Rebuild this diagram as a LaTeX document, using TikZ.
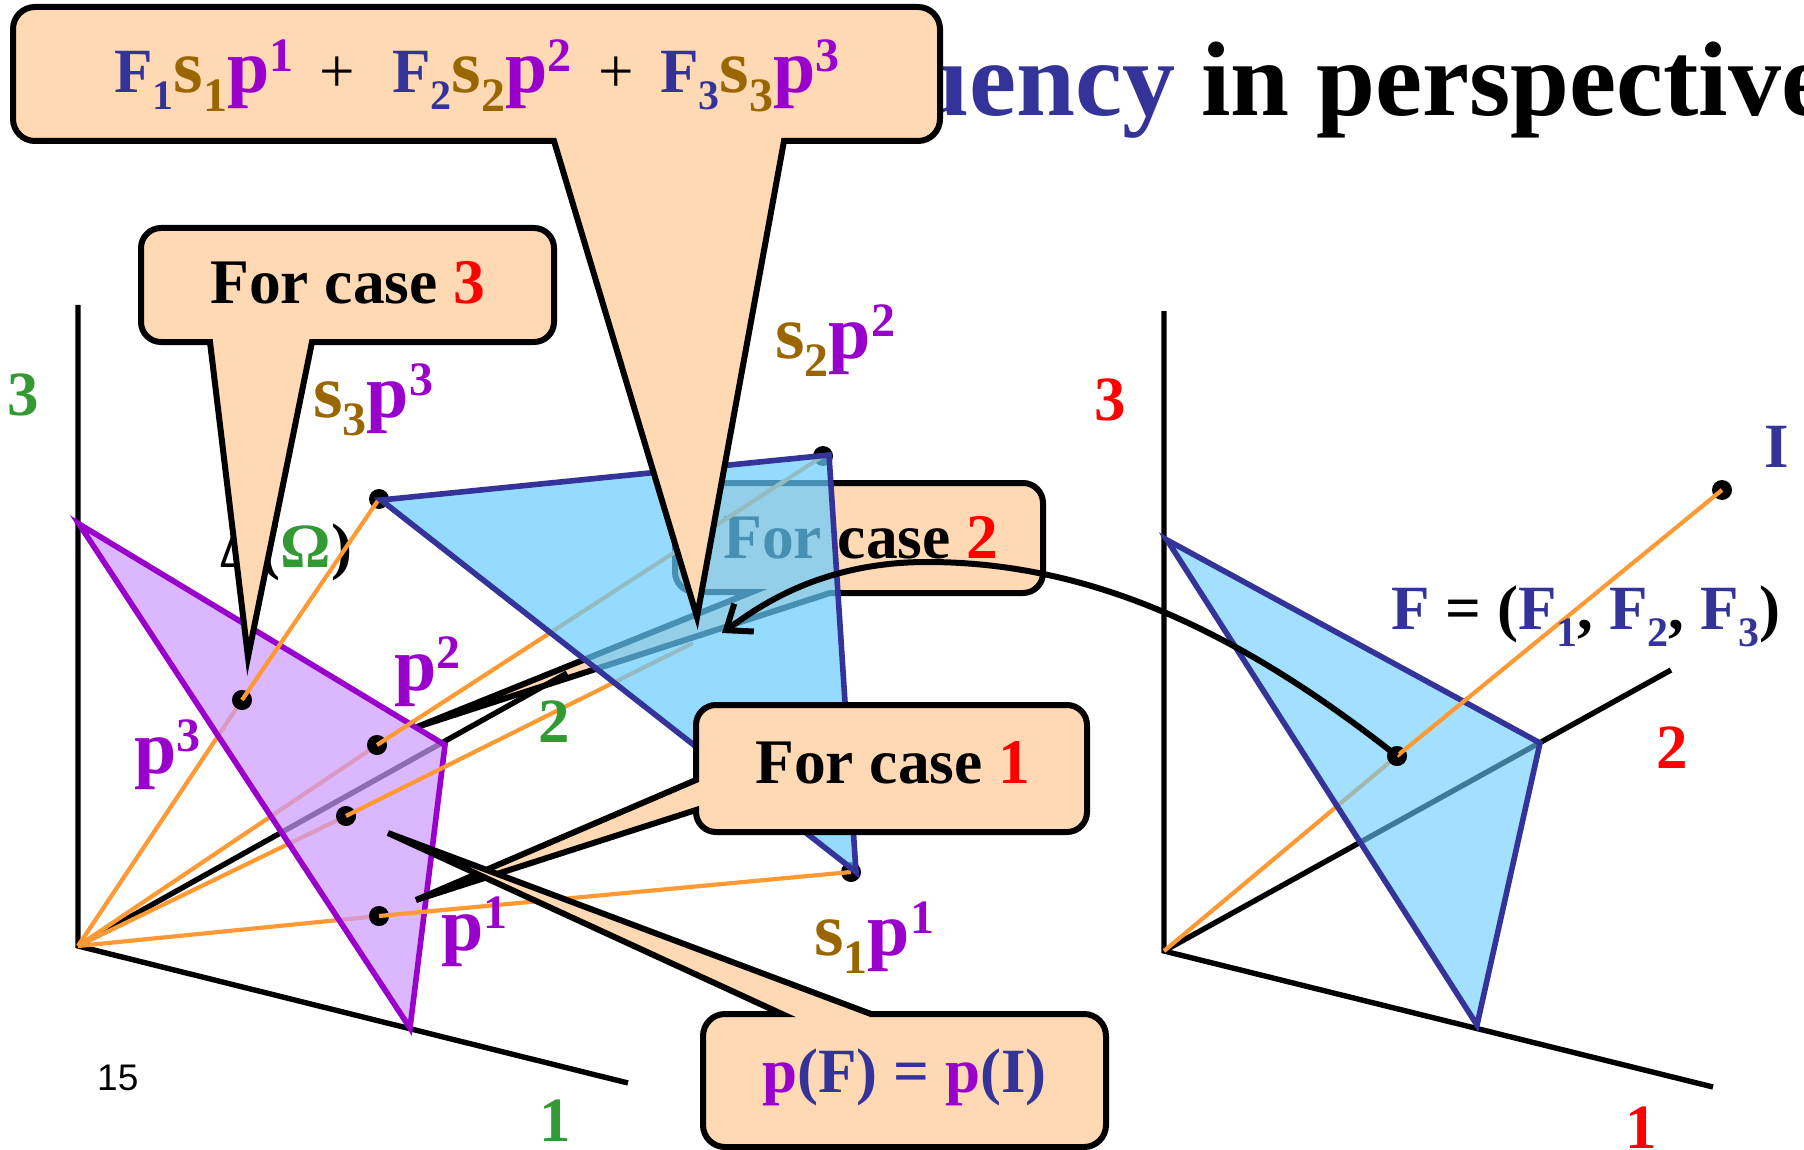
\documentclass[tikz,border=0pt]{standalone}
\usepackage{fontspec}
\setmainfont{Liberation Serif}
\newfontfamily\arialf{Liberation Sans}
\usetikzlibrary{arrows.meta}
\definecolor{cblue}{HTML}{333399}
\definecolor{cbrown}{HTML}{996600}
\definecolor{cpurple}{HTML}{9900CC}
\definecolor{cgreen}{HTML}{339933}
\definecolor{cpeach}{HTML}{FFD9B3}
\definecolor{corange}{HTML}{FF9933}
\definecolor{cfillb}{HTML}{66CCFF}
\definecolor{cfillp}{HTML}{CC99FF}
\newcommand{\fsz}[1]{\fontsize{#1}{#1}\selectfont}
\newcommand{\subd}[1]{\textcolor{cblue}{\raisebox{-17pt}{\fsz{42}#1}}}
\newcommand{\subb}[1]{\textcolor{cbrown}{\raisebox{-18.5pt}{\fsz{48}#1}}}
\newcommand{\supd}[1]{\textcolor{cpurple}{\raisebox{21.5pt}{\fsz{48}#1}}}
\newcommand{\bigS}{\textcolor{cbrown}{\fsz{76}s}}
\newcommand{\bigP}{\textcolor{cpurple}{\fsz{76}p}}
\newcommand{\termF}[2]{\textcolor{cblue}{F}\subd{#1}\bigS\subb{#1}\bigP\supd{#2}}
\tikzset{
  x=1pt,y=-1pt,
  axisline/.style={draw=black,line width=5.4pt},
  orangeline/.style={draw=corange,line width=4.2pt},
  callout/.style={draw=black,fill=cpeach,line width=6pt},
  triline/.style={line width=5.6pt},
  dotn/.style={circle,fill=black,inner sep=0,minimum size=20pt},
  lbl/.style={anchor=base west,inner sep=0,font=\bfseries\fsz{63}},
  lblc/.style={lbl,font=\bfseries\fsz{63.5}},
  lblb/.style={lbl,text=cblue},
}
\begin{document}
\begin{tikzpicture}
\useasboundingbox (0,0) rectangle (1804,1150);
\clip (0,0) rectangle (1804,1150);
% title
\node[lbl,anchor=base east,font=\bfseries\fsz{106},text=cblue] (titlea) at (1176,116) {uency};
\node[lbl,font=\bfseries\fsz{106}] (titleb) at (1201,116) {in perspective};

% coordinates, left panel
\coordinate (O) at (78,946);
\coordinate (Vt) at (78,305);
\coordinate (A1) at (628,1083);
\coordinate (A2) at (567,673);
\coordinate (Ftop) at (823,456);
\coordinate (Fleft) at (379,499);
\coordinate (Fbot) at (851,872);
\coordinate (Fmid) at (693,643);

% For case 2, lying beneath the blue triangle
\draw[callout] (752,592) [rounded corners=20pt] -- (675,592) -- (675,483) -- (1043,483) -- (1043,593) -- (1000,593) [sharp corners] -- (830,593) -- (417,727) -- cycle;
\node[lblc] (case2) at (723,558) {For case \textcolor{red}{2}};

% left axes
\draw[axisline] (Vt) -- (O) -- (A1);
\draw[axisline] (O) -- (A2);
\node[lbl] (delta) at (220,567) {Δ(\textcolor{cgreen}{Ω})};

% dots of the left panel
\node[dotn] (d3) at (242,700) {};
\node[dotn] (d2) at (377,745) {};
\node[dotn] (dm) at (346,816) {};
\node[dotn] (d1) at (379,916) {};

% orange rays up to the purple triangle
\draw[orangeline] (O) -- (d3.center);
\draw[orangeline] (O) -- (d2.center);
\draw[orangeline] (O) -- (dm.center);
\draw[orangeline] (O) -- (d1.center);

% purple triangle
\fill[cfillp,fill opacity=.7] (79,524) -- (445,745) -- (410,1028) -- cycle;
\draw[cpurple,triline] (79,524) -- (445,745) -- (410,1028) -- cycle;
\node[dotn] (d3b) at (d3) {};
\node[dotn] (d2b) at (d2) {};
\node[dotn] (dmb) at (dm) {};
\node[dotn] (d1b) at (d1) {};

% dots of the blue triangle
\node[dotn] (ft) at (Ftop) {};
\node[dotn] (fl) at (Fleft) {};
\node[dotn] (fb) at (Fbot) {};

% orange rays beyond the purple triangle
\draw[orangeline] (d3b.center) -- (fl.center);
\draw[orangeline] (d2b.center) -- (ft.center);
\draw[orangeline] (dmb.center) -- (Fmid);
\draw[orangeline] (d1b.center) -- (fb.center);

% blue triangle
\fill[cfillb,fill opacity=.7] (381,500) -- (829,455) -- (856,872) -- cycle;
\draw[cblue,triline] (381,500) -- (829,455) -- (856,872) -- cycle;

% right panel
\coordinate (Or) at (1164,951);
\coordinate (Vr) at (1164,311);
\coordinate (A1r) at (1713,1087);
\coordinate (A2r) at (1671,670);
\draw[axisline] (Vr) -- (Or) -- (A1r);
\draw[axisline] (Or) -- (A2r);
\node[dotn] (dF) at (1397,756) {};
\node[dotn] (dI) at (1722,490) {};
\draw[orangeline] (Or) -- (dF.center);
\fill[cfillb,fill opacity=.6] (1167,540) -- (1540,743) -- (1477,1025) -- cycle;
\draw[cblue,triline] (1167,540) -- (1540,743) -- (1477,1025) -- cycle;
\node[dotn] (dFb) at (dF) {};
\draw[orangeline] (dFb.center) -- (dI.center);

% callouts above the triangles
\draw[callout] (210,342) [rounded corners=20pt] -- (141,342) -- (141,228) -- (554,228) -- (554,342) -- (500,342) [sharp corners] -- (312,342) -- (248,657) -- cycle;
\node[lblc] (case3) at (210,303) {For case \textcolor{red}{3}};

\draw[callout] (696,780) [rounded corners=20pt] -- (696,705) -- (1087,705) -- (1087,832) -- (760,832) [sharp corners] -- (716,832) .. controls (705,832) and (696,823) .. (696,812) -- (696,810) -- (416,900) -- cycle;
\node[lblc] (case1) at (755,783) {For case \textcolor{red}{1}};

\draw[callout] (782,1014) [rounded corners=22pt] -- (703,1014) -- (703,1147) -- (1106,1147) -- (1106,1014) -- (1050,1014) [sharp corners] -- (871,1014) -- (388,833) -- cycle;
\node[lbl,text=cblue] (pfpi) at (762,1092) {\textcolor{cpurple}{p}(F) = \textcolor{cpurple}{p}(I)};

\draw[callout] (554,141) [rounded corners=22pt] -- (13,141) -- (13,7) -- (940,7) -- (940,141) -- (880,141) [sharp corners] -- (784,141) -- (697,617) -- cycle;
\node[lbl] (t1) at (114,93) {\termF{1}{1}};
\node[lbl,font=\fsz{63}] (plus1) at (319,93) {+};
\node[lbl] (t2) at (392,93) {\termF{2}{2}};
\node[lbl,font=\fsz{63}] (plus2) at (598,93) {+};
\node[lbl] (t3) at (660,93) {\termF{3}{3}};

% mapping arrow
\draw[black,line width=6pt,-{Straight Barb[length=22pt,width=34pt]}] (dFb.center) .. controls (1250,640) and (1100,562) .. (927,562) .. controls (815,562) and (752,612) .. (722,633);

% labels
\node[lbl,text=cgreen] (g3) at (7,415) {3};
\node[lbl,text=cgreen] (g2) at (538,742) {2};
\node[lbl,text=cgreen] (g1) at (539,1141) {1};
\node[lbl,text=red] (r3) at (1094,420) {3};
\node[lbl,text=red] (r2) at (1656,768) {2};
\node[lbl,text=red] (r1) at (1625,1148) {1};
\node[lbl] (s3) at (313,417) {\bigS\subb{3}\bigP\supd{3}};
\node[lbl] (s2) at (775,358) {\bigS\subb{2}\bigP\supd{2}};
\node[lbl] (s1) at (814,955) {\bigS\subb{1}\bigP\supd{1}};
\node[lbl] (p2) at (394,690) {\bigP\supd{2}};
\node[lbl] (p3) at (134,773) {\bigP\supd{3}};
\node[lbl] (p1) at (441,950) {\bigP\supd{1}};
\node[lblb] (I) at (1764,467) {I};
\node[lbl] (Fvec) at (1391,629) {\textcolor{cblue}{F} = (\textcolor{cblue}{F}\subd{1}, \textcolor{cblue}{F}\subd{2}, \textcolor{cblue}{F}\subd{3})};
\node[anchor=base west,inner sep=0,font=\arialf\fsz{37}] (pg) at (97,1090) {15};
\end{tikzpicture}
\end{document}
